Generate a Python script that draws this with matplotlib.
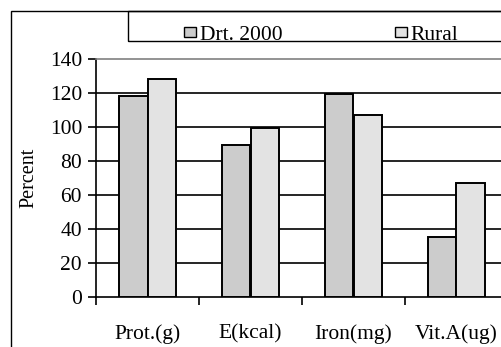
import matplotlib
matplotlib.use("Agg")
import matplotlib.pyplot as plt
from matplotlib.patches import Rectangle
import numpy as np

categories = ["Prot.(g)", "E(kcal)", "Iron(mg)", "Vit.A(ug)"]
series_names = ["Drt. 2000", "Rural"]
drt_2000 = [118, 89, 119, 35]
rural = [128, 99, 107, 67]
y_ticks = [0, 20, 40, 60, 80, 100, 120, 140]

colors = ["#cccccc", "#e3e3e3"]

plt.rcParams["font.family"] = ["Liberation Serif", "DejaVu Serif"]

W, H = 501, 347
fig = plt.figure(figsize=(W / 100, H / 100), dpi=100)

def fx(px):
    return px / W

def fy(py):
    return 1 - py / H

# plot area extends past the right edge of the figure
ax = fig.add_axes([fx(96), fy(296.7), fx(508 - 96), (296.7 - 58.7) / H])
x = np.arange(len(categories))
w = 0.28
ax.set_axisbelow(True)
ax.bar(x - w / 2, drt_2000, w, color=colors[0], edgecolor="black", linewidth=1.4, zorder=3)
ax.bar(x + w / 2, rural, w, color=colors[1], edgecolor="black", linewidth=1.4, zorder=3)

ax.set_xlim(-0.5, len(categories) - 0.5)
ax.set_ylim(0, 140)
ax.set_yticks(y_ticks)
ax.set_yticklabels([str(t) for t in y_ticks], fontsize=15.5)
for t in y_ticks[1:-1]:
    ax.axhline(t, color="black", linewidth=1.2, zorder=1)

ax.set_xticks(np.arange(len(categories) + 1) - 0.5)
ax.set_xticklabels([])
ax.set_xticks(x, minor=True)
ax.set_xticklabels(categories, minor=True, fontsize=15.5)
ax.tick_params(axis="x", which="minor", length=0, pad=20)
ax.tick_params(axis="x", which="major", direction="out", length=6, width=1.2)
ax.tick_params(axis="y", direction="out", length=6, width=1.2, pad=4)

ax.spines["right"].set_visible(False)
ax.spines["top"].set_color("#808080")
ax.spines["top"].set_linewidth(1.2)
ax.spines["left"].set_linewidth(1.2)
ax.spines["bottom"].set_linewidth(1.2)
ax.set_ylabel("Percent", fontsize=14.5, labelpad=8)

# outer chart border
fig.patches.append(Rectangle((fx(11), fy(360)), fx(520 - 11), (360 - 11) / H,
                             transform=fig.transFigure, fill=False,
                             edgecolor="black", linewidth=1.0))
# legend box
fig.patches.append(Rectangle((fx(128), fy(41)), fx(520 - 128), (41 - 11) / H,
                             transform=fig.transFigure, fill=False,
                             edgecolor="black", linewidth=1.0))
legend_marks = [(184, 200), (395, 410)]
for (mx, tx), name, c in zip(legend_marks, series_names, colors):
    fig.patches.append(Rectangle((fx(mx), fy(37)), fx(12), 10 / H,
                                 transform=fig.transFigure, facecolor=c,
                                 edgecolor="black", linewidth=1.0))
    fig.text(fx(tx), fy(40.5), name, fontsize=15.5, ha="left", va="baseline")

fig.savefig("out.png", dpi=100)
